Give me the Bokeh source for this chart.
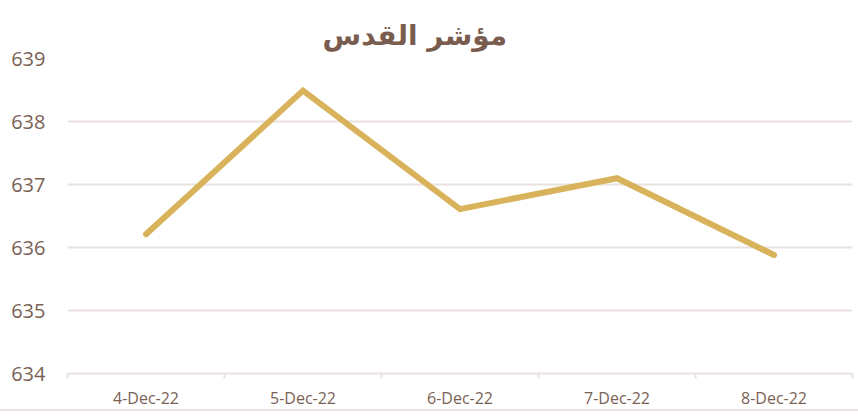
from bokeh.plotting import figure
from bokeh.models import Range1d, FixedTicker, ColumnDataSource, Title
from bokeh.embed import file_html
from bokeh.resources import INLINE

categories = ["4-Dec-22", "5-Dec-22", "6-Dec-22", "7-Dec-22", "8-Dec-22"]
values = [636.21, 638.49, 636.61, 637.10, 635.88]
y_ticks = [634, 635, 636, 637, 638, 639]
title_text = "مؤشر القدس"

x_pos = [i + 0.5 for i in range(len(categories))]
src = ColumnDataSource(dict(x=x_pos, y=values))

GRID = "#E9E2DF"
TXT = "#7A5F55"

p = figure(width=858, height=411, output_backend="svg", toolbar_location=None,
           x_range=Range1d(0, len(categories)), y_range=Range1d(y_ticks[0], y_ticks[-1]),
           min_border_left=67, min_border_right=6, min_border_top=58, min_border_bottom=30)
p.outline_line_color = None
p.background_fill_color = "white"
p.border_fill_color = "white"

p.line("x", "y", source=src, line_color="#D9B35B", line_width=6,
       line_cap="round", line_join="miter")

# y axis
p.yaxis.ticker = FixedTicker(ticks=y_ticks)
p.yaxis.axis_line_color = None
p.yaxis.major_tick_line_color = None
p.yaxis.major_tick_out = 0
p.yaxis.minor_tick_line_color = None
p.yaxis.major_label_text_font = "Open Sans"
p.yaxis.major_label_text_font_size = "20px"
p.yaxis.major_label_text_color = TXT
p.yaxis.major_label_standoff = 22

# x axis
p.xaxis.ticker = FixedTicker(ticks=x_pos, minor_ticks=list(range(len(categories) + 1)))
p.xaxis.major_label_overrides = {x: c for x, c in zip(x_pos, categories)}
p.xaxis.axis_line_color = GRID
p.xaxis.axis_line_width = 2
p.xaxis.major_tick_line_color = None
p.xaxis.major_tick_out = 0
p.xaxis.major_tick_in = 0
p.xaxis.minor_tick_line_color = GRID
p.xaxis.minor_tick_line_width = 2
p.xaxis.minor_tick_out = 5
p.xaxis.minor_tick_in = 0
p.xaxis.major_label_text_font = "Open Sans"
p.xaxis.major_label_text_font_size = "16px"
p.xaxis.major_label_text_color = TXT
p.xaxis.major_label_standoff = 8

p.xgrid.grid_line_color = None
p.ygrid.ticker = FixedTicker(ticks=y_ticks)
p.ygrid.grid_line_color = GRID
p.ygrid.grid_line_width = 2

t = Title(text=title_text, align="left", offset=255, text_font="DejaVu Sans",
          text_font_style="bold", text_font_size="28px", text_color="#7A5C4F",
          standoff=13)
p.add_layout(t, "above")

p.styles = {"border-bottom": "2px solid " + GRID}

open("out.html", "w").write(file_html(p, INLINE))
